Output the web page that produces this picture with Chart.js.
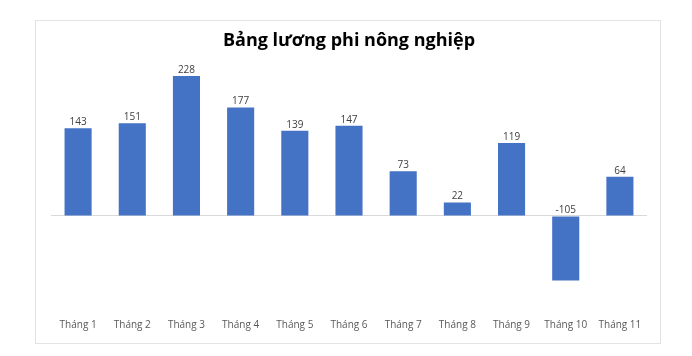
<!DOCTYPE html>
<html>
<head>
<meta charset="utf-8">
<script src="https://cdn.jsdelivr.net/npm/chart.js@4/dist/chart.umd.min.js"></script>
<style>
  html, body { margin: 0; padding: 0; background: #ffffff; }
  body { width: 692px; height: 356px; position: relative; overflow: hidden; }
  #frame {
    position: absolute; left: 35px; top: 20px;
    width: 624px; height: 322px;
    border: 1px solid #e3e3e3; background: #ffffff;
  }
  #wrap { position: absolute; left: 0; top: 0; width: 624px; height: 322px; }
</style>
</head>
<body>
<div id="frame"><div id="wrap"><canvas id="chart"></canvas></div></div>
<script>
const categories = ['Tháng 1', 'Tháng 2', 'Tháng 3', 'Tháng 4', 'Tháng 5', 'Tháng 6',
                    'Tháng 7', 'Tháng 8', 'Tháng 9', 'Tháng 10', 'Tháng 11'];
const payrolls = [143, 151, 228, 177, 139, 147, 73, 22, 119, -105, 64];
const chartTitle = 'Bảng lương phi nông nghiệp';

const BAR_COLOR = '#4472C4';
const TEXT_COLOR = '#595959';
const FONT = "'Open Sans', 'Liberation Sans', sans-serif";

// Value labels: above the bar end for gains, above the baseline for losses
const valueLabels = {
  id: 'valueLabels',
  afterDatasetsDraw(chart) {
    const ctx = chart.ctx;
    const meta = chart.getDatasetMeta(0);
    ctx.save();
    ctx.font = '10px ' + FONT;
    ctx.fillStyle = '#404040';
    ctx.textAlign = 'center';
    ctx.textBaseline = 'bottom';
    meta.data.forEach((bar, i) => {
      const v = chart.data.datasets[0].data[i];
      const top = Math.min(bar.y, bar.base);
      ctx.fillText(String(v), bar.x, top - 1);
    });
    ctx.restore();
  }
};

new Chart(document.getElementById('chart'), {
  type: 'bar',
  data: {
    labels: categories,
    datasets: [{
      data: payrolls,
      backgroundColor: BAR_COLOR,
      borderWidth: 0,
      barPercentage: 1,
      categoryPercentage: 0.5
    }]
  },
  options: {
    responsive: true,
    maintainAspectRatio: false,
    animation: false,
    layout: { padding: { left: 15, right: 13, top: 0, bottom: 0 } },
    plugins: {
      legend: { display: false },
      tooltip: { enabled: false },
      title: {
        display: true,
        text: chartTitle,
        color: '#000000',
        font: { family: FONT, size: 18, weight: 'bold', lineHeight: 1.2 },
        padding: { top: 9, bottom: 11 }
      }
    },
    scales: {
      x: {
        grid: { display: false, drawTicks: false },
        border: { display: false },
        ticks: { color: TEXT_COLOR, font: { family: FONT, size: 10 }, padding: 11, maxRotation: 0, autoSkip: false },
        afterFit(scale) { scale.height = 35; }
      },
      y: {
        min: -150,
        max: 250,
        border: { display: false },
        grid: {
          drawTicks: false,
          lineWidth: 1,
          color: (c) => (c.tick && c.tick.value === 0 ? '#d9d9d9' : 'rgba(0,0,0,0)')
        },
        ticks: { display: false, stepSize: 50 },
        afterFit(scale) { scale.width = 0; }
      }
    }
  },
  plugins: [valueLabels]
});
</script>
</body>
</html>
